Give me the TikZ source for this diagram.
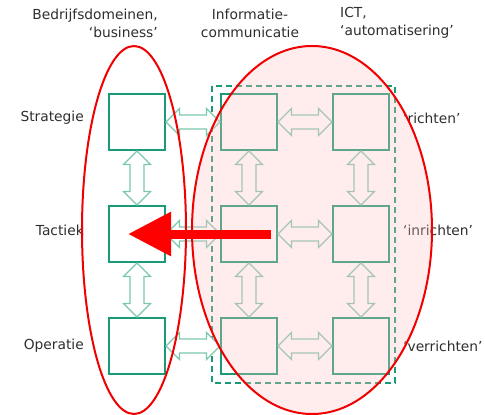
\documentclass[tikz,border=0pt]{standalone}
\usepackage{fontspec}
\setmainfont{DejaVu Sans}
\usetikzlibrary{arrows.meta,calc}
\definecolor{boxgreen}{HTML}{1A9A76}
\definecolor{arrowgreen}{HTML}{7CC8AE}
\definecolor{txtgray}{HTML}{2E2E2E}
\definecolor{ovalred}{HTML}{F00000}
\definecolor{ovalfill}{HTML}{FFC3C3}
\tikzset{
  blok/.style={draw=boxgreen,line width=2pt,fill=white,minimum size=56pt,inner sep=0pt},
  hol/.style={draw=arrowgreen,line width=1.3pt,fill=white,line join=miter},
  lbl/.style={text=txtgray,font=\fontsize{13.8}{18}\selectfont,inner sep=0pt},
  kader/.style={draw=boxgreen,line width=1.8pt,dash pattern=on 6pt off 4pt},
  ovaal/.style={draw=ovalred,line width=2pt},
  grootpijl/.style={draw=red,line width=9pt,-{Triangle[length=43pt,width=42pt]}}
}
%% hollow double arrows between two boxes
\newcommand\hpijl[2]{\draw[hol] let \p1=(#1.east), \p2=(#2.west) in
  (\p1) -- (\x1+13.5pt,\y1+13.5pt) -- (\x1+13.5pt,\y1+7pt) -- (\x2-13.5pt,\y1+7pt)
  -- (\x2-13.5pt,\y1+13.5pt) -- (\p2) -- (\x2-13.5pt,\y1-13.5pt) -- (\x2-13.5pt,\y1-7pt)
  -- (\x1+13.5pt,\y1-7pt) -- (\x1+13.5pt,\y1-13.5pt) -- cycle;}
\newcommand\vpijl[2]{\draw[hol] let \p1=(#1.south), \p2=(#2.north) in
  (\p1) -- (\x1+13.5pt,\y1-13.5pt) -- (\x1+7pt,\y1-13.5pt) -- (\x1+7pt,\y2+13.5pt)
  -- (\x1+13.5pt,\y2+13.5pt) -- (\p2) -- (\x1-13.5pt,\y2+13.5pt) -- (\x1-7pt,\y2+13.5pt)
  -- (\x1-7pt,\y1-13.5pt) -- (\x1-13.5pt,\y1-13.5pt) -- cycle;}
\begin{document}
\begin{tikzpicture}[x=1pt,y=-1pt]
  \useasboundingbox (0,0) rectangle (485,415);
  %% headers
  \node[lbl,anchor=east,align=right] (bus) at (158,23) {Bedrijfsdomeinen,\\`business'};
  \node[lbl,align=center] (inf) at (250,23) {Informatie-\\communicatie};
  \node[lbl,anchor=west,align=left] (ict) at (340,23) {ICT,\\`automatisering'};
  %% row labels
  \node[lbl,anchor=east] (strat) at (84,118) {Strategie};
  \node[lbl,anchor=east] (tact) at (84,230) {Tactiek};
  \node[lbl,anchor=east] (oper) at (84,346) {Operatie};
  \node[lbl,anchor=west] (richt) at (403,118) {`richten'};
  \node[lbl,anchor=west] (inricht) at (403,230) {`inrichten'};
  \node[lbl,anchor=west] (verricht) at (403,346) {`verrichten'};
  %% frame round informatie and ict
  \draw[kader] (212,86) rectangle (395,383);
  %% boxes
  \node[blok] (b1) at (137,122) {};
  \node[blok] (b2) at (137,234) {};
  \node[blok] (b3) at (137,346) {};
  \node[blok] (i1) at (249,122) {};
  \node[blok] (i2) at (249,234) {};
  \node[blok] (i3) at (249,346) {};
  \node[blok] (c1) at (361,122) {};
  \node[blok] (c2) at (361,234) {};
  \node[blok] (c3) at (361,346) {};
  %% hollow arrows
  \hpijl{b1}{i1} \hpijl{b2}{i2} \hpijl{b3}{i3}
  \hpijl{i1}{c1} \hpijl{i2}{c2} \hpijl{i3}{c3}
  \vpijl{b1}{b2} \vpijl{b2}{b3}
  \vpijl{i1}{i2} \vpijl{i2}{i3}
  \vpijl{c1}{c2} \vpijl{c2}{c3}
  %% ovals
  \draw[ovaal] (134,230) ellipse [x radius=52pt,y radius=184pt];
  \draw[ovaal,fill=ovalfill,fill opacity=0.3] (312,230) ellipse [x radius=120pt,y radius=184pt];
  %% big red arrow
  \coordinate (staart) at (271,234);
  \coordinate (punt) at (128,234);
  \draw[grootpijl] (staart) -- (punt);
\end{tikzpicture}
\end{document}
